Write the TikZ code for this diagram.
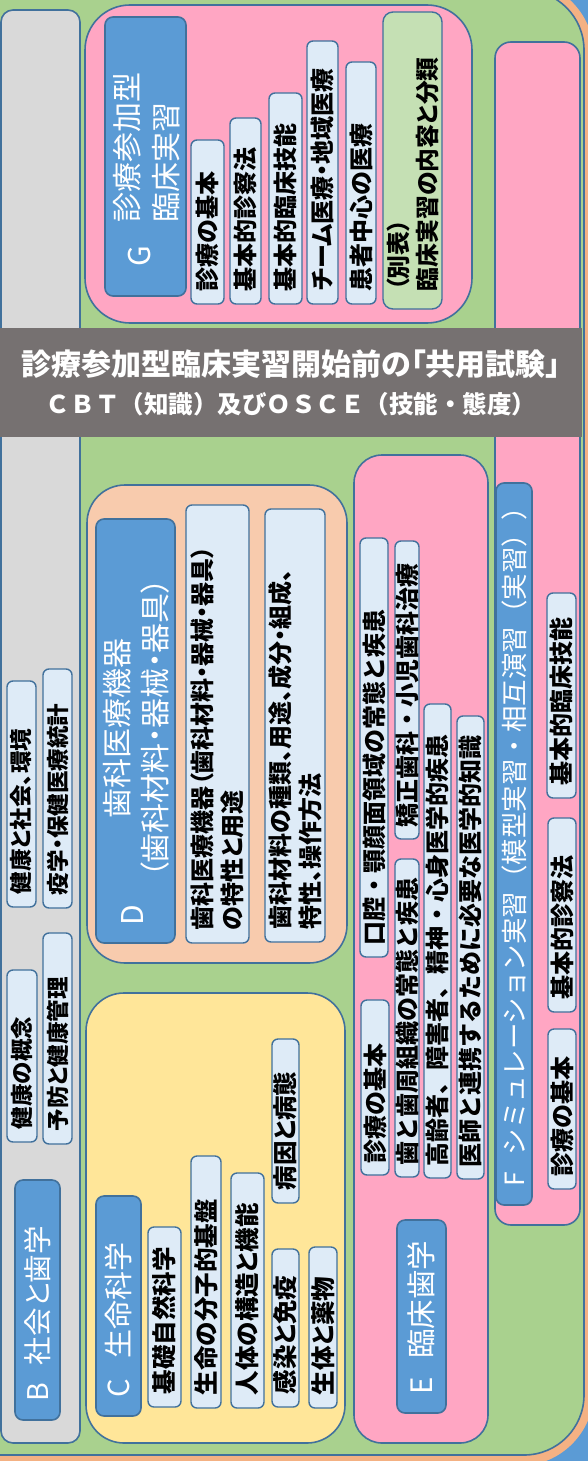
\documentclass[tikz,border=0pt]{standalone}
\usepackage{fontspec}
\setmainfont{Noto Sans CJK JP}[RawFeature=+palt]
\newfontfamily\fwjp{Noto Sans CJK JP}
\definecolor{bgblue}{HTML}{5B9BD5}
\definecolor{orng}{HTML}{F4B183}
\definecolor{grn}{HTML}{A9D18E}
\definecolor{gry}{HTML}{D9D9D9}
\definecolor{pnk}{HTML}{FFA6C3}
\definecolor{pch}{HTML}{F8CBAD}
\definecolor{ylw}{HTML}{FFE699}
\definecolor{lgrn}{HTML}{C5E0B4}
\definecolor{itm}{HTML}{DEEBF7}
\definecolor{labblue}{HTML}{5B9BD5}
\definecolor{bd}{HTML}{41719C}
\definecolor{bandgray}{HTML}{767171}
\tikzset{
  cont/.style={draw=bd, line width=1.6pt, inner sep=0pt},
  item/.style={draw=bd, line width=1.4pt, fill=itm, rounded corners=6pt, inner ysep=0pt,
    align=left, text=black, font=\bfseries\fontsize{24}{30}\selectfont},
  labbox/.style={draw=bd, line width=1.6pt, fill=labblue, rounded corners=8pt, inner ysep=0pt,
    align=left, text=white, font=\fontsize{29}{36}\selectfont},
  labtxt/.style={text=white, inner sep=0pt, font=\fontsize{30}{39}\selectfont},
  bandbox/.style={fill=bandgray, inner sep=0pt, text=white, align=center,
    font=\bfseries\fontsize{30}{38}\selectfont}
}
\newcommand\cbox[6][]{%
  \pgfmathsetmacro\cbW{#5-#3}\pgfmathsetmacro\cbH{#6-#4}%
  \pgfmathsetmacro\cbX{(#3+#5)/2}\pgfmathsetmacro\cbY{(#4+#6)/2}%
  \node[cont,#1,minimum width=\cbW pt,minimum height=\cbH pt] (#2) at (\cbX,\cbY) {};}
\newcommand\ibox[7][]{%
  \pgfmathsetmacro\cbW{#5-#3}\pgfmathsetmacro\cbH{#6-#4}%
  \pgfmathsetmacro\cbX{(#3+#5)/2}\pgfmathsetmacro\cbY{(#4+#6)/2}%
  \pgfmathsetmacro\cbT{#6-#4-2*\padv}%
  \node[#1,rotate=90,inner xsep=\padv pt,minimum width=\cbH pt,minimum height=\cbW pt,text width=\cbT pt] (#2) at (\cbX,\cbY) {#7};}
\def\padv{13}
\begin{document}
\begin{tikzpicture}[x=1pt,y=-1pt]
\useasboundingbox (0,0) rectangle (588,1461);
\clip (0,0) rectangle (588,1461);
\fill[bgblue] (0,0) rectangle (588,1461);
\fill[orng, rounded corners=75pt] (-100,-20) rectangle (594,1466);
\draw[fill=grn, draw=bd, line width=1.6pt, rounded corners=60pt] (-80,-10) rectangle (584,1455);

% ---- B column
\cbox[fill=gry, rounded corners=12pt]{Bcol}{1}{10}{80}{1443}
\def\padv{19}
\ibox[labbox, font=\fontsize{28.5}{34}\selectfont]{Blab}{15}{1180}{60}{1420}{B\hspace{0.6em}社会と歯学}
\def\padv{13}
\ibox[item, font=\bfseries\fontsize{22.5}{28}\selectfont]{b1}{7}{970}{37}{1142}{健康の概念}
\ibox[item, font=\bfseries\fontsize{22.5}{28}\selectfont]{b2}{43}{933}{72}{1144}{予防と健康管理}
\ibox[item, font=\bfseries\fontsize{22.5}{28}\selectfont]{b3}{7}{681}{36}{907}{健康と社会、環境}
\ibox[item, font=\bfseries\fontsize{22.5}{28}\selectfont]{b4}{43}{669}{72}{908}{疫学・保健医療統計}

% ---- C
\cbox[fill=ylw, rounded corners=38pt]{Ccont}{86}{993}{345}{1443}
\def\padv{19}
\ibox[labbox]{Clab}{96}{1196}{141}{1416}{C\hspace{0.7em}生命科学}
\def\padv{13}
\ibox[item, font=\bfseries\fontsize{24.5}{30}\selectfont]{c1}{148}{1227}{181}{1407}{基礎自然科学}
\ibox[item, font=\bfseries\fontsize{24.5}{30}\selectfont]{c2}{191}{1156}{221}{1408}{生命の分子的基盤}
\ibox[item, font=\bfseries\fontsize{24.5}{30}\selectfont]{c3}{231}{1173}{264}{1408}{人体の構造と機能}
\ibox[item, font=\bfseries\fontsize{24.5}{30}\selectfont]{c4}{272}{1039}{299}{1203}{病因と病態}
\ibox[item, font=\bfseries\fontsize{24.5}{30}\selectfont]{c5}{272}{1249}{299}{1407}{感染と免疫}
\ibox[item, font=\bfseries\fontsize{24.5}{30}\selectfont]{c6}{309}{1247}{337}{1408}{生体と薬物}

% ---- D
\cbox[fill=pch, rounded corners=38pt]{Dcont}{87}{485}{347}{963}
\cbox[labbox]{Dlab}{96}{519}{175}{943}
\node[labtxt, rotate=90] (Dletter) at (133,915) {D};
\node[labtxt, rotate=90, align=center, font=\fontsize{30}{38}\selectfont] (Dtitle) at (136,728) {歯科医療機器\\（歯科材料・器械・器具）};
\ibox[item, font=\bfseries\fontsize{24}{30}\selectfont]{d1}{186}{505}{249}{943}{歯科医療機器（歯科材料・器械・器具）\\の特性と用途}
\ibox[item, font=\bfseries\fontsize{24}{30}\selectfont]{d2}{265}{509}{325}{942}{歯科材料の種類、用途、成分・組成、\\特性、操作方法}

% ---- E
\cbox[fill=pnk, rounded corners=28pt]{Econt}{354}{455}{488}{1443}
\def\padv{19}
\ibox[labbox, font=\fontsize{29.5}{36}\selectfont]{Elab}{397}{1220}{446}{1413}{E\hspace{0.6em}臨床歯学}
\def\padv{12}
\ibox[item, font=\fwjp\bfseries\fontsize{24}{30}\selectfont]{e1}{361}{1000}{389}{1175}{診療の基本}
\ibox[item, font=\fwjp\bfseries\fontsize{24}{30}\selectfont]{e2}{360}{538}{388}{957}{口腔・顎顔面領域の常態と疾患}
\ibox[item, font=\fwjp\bfseries\fontsize{24}{30}\selectfont]{e3}{395}{859}{419}{1177}{歯と歯周組織の常態と疾患}
\ibox[item, font=\fwjp\bfseries\fontsize{24}{30}\selectfont]{e4}{395}{541}{419}{839}{矯正歯科・小児歯科治療}
\ibox[item, font=\fwjp\bfseries\fontsize{24}{30}\selectfont]{e5}{424}{704}{451}{1178}{高齢者、障害者、精神・心身医学的疾患}
\ibox[item, font=\fwjp\bfseries\fontsize{24}{30}\selectfont]{e6}{457}{716}{484}{1179}{医師と連携するために必要な医学的知識}

% ---- F
\cbox[fill=pnk, rounded corners=16pt]{Fcont}{495}{42}{580}{1225}
\def\padv{19}
\ibox[labbox, font=\fwjp\fontsize{26.5}{32}\selectfont]{Flab}{496}{483}{532}{1205}{F\hspace{0.6em}シミュレーション実習（模型実習・相互演習（実習））}
\def\padv{13}
\ibox[item]{f1}{548}{1029}{576}{1189}{診療の基本}
\ibox[item]{f2}{548}{818}{576}{1012}{基本的診察法}
\ibox[item]{f3}{547}{593}{576}{798}{基本的臨床技能}

% ---- G
\cbox[fill=pnk, rounded corners=45pt]{Gcont}{85}{5}{472}{323}
\cbox[labbox]{Glab}{105}{17}{186}{296}
\node[labtxt, rotate=90] (Gletter) at (140,256) {G};
\node[labtxt, rotate=90, align=left, anchor=west] (Gtitle) at (146.5,223) {診療参加型\\臨床実習};
\ibox[item]{g1}{191}{140}{224}{304}{診療の基本}
\ibox[item]{g2}{230}{118}{261}{304}{基本的診察法}
\ibox[item]{g3}{269}{93}{302}{304}{基本的臨床技能}
\ibox[item]{g4}{307}{41}{338}{304}{チーム医療・地域医療}
\ibox[item]{g5}{346}{62}{376}{304}{患者中心の医療}
\def\padv{18}
\ibox[item, fill=lgrn, rounded corners=10pt, font=\bfseries\fontsize{23.8}{29}\selectfont]{g6}{383}{12}{442}{309}{（別表）\\臨床実習の内容と分類}

% ---- band
\node[bandbox, minimum width=582pt, minimum height=109pt] (band) at (291,382.5)
  {診療参加型臨床実習開始前の「共用試験」\\{\fwjp\bfseries\fontsize{24.5}{38}\selectfont ＣＢＴ（知識）及びＯＳＣＥ（技能・態度）}};
\end{tikzpicture}
\end{document}
